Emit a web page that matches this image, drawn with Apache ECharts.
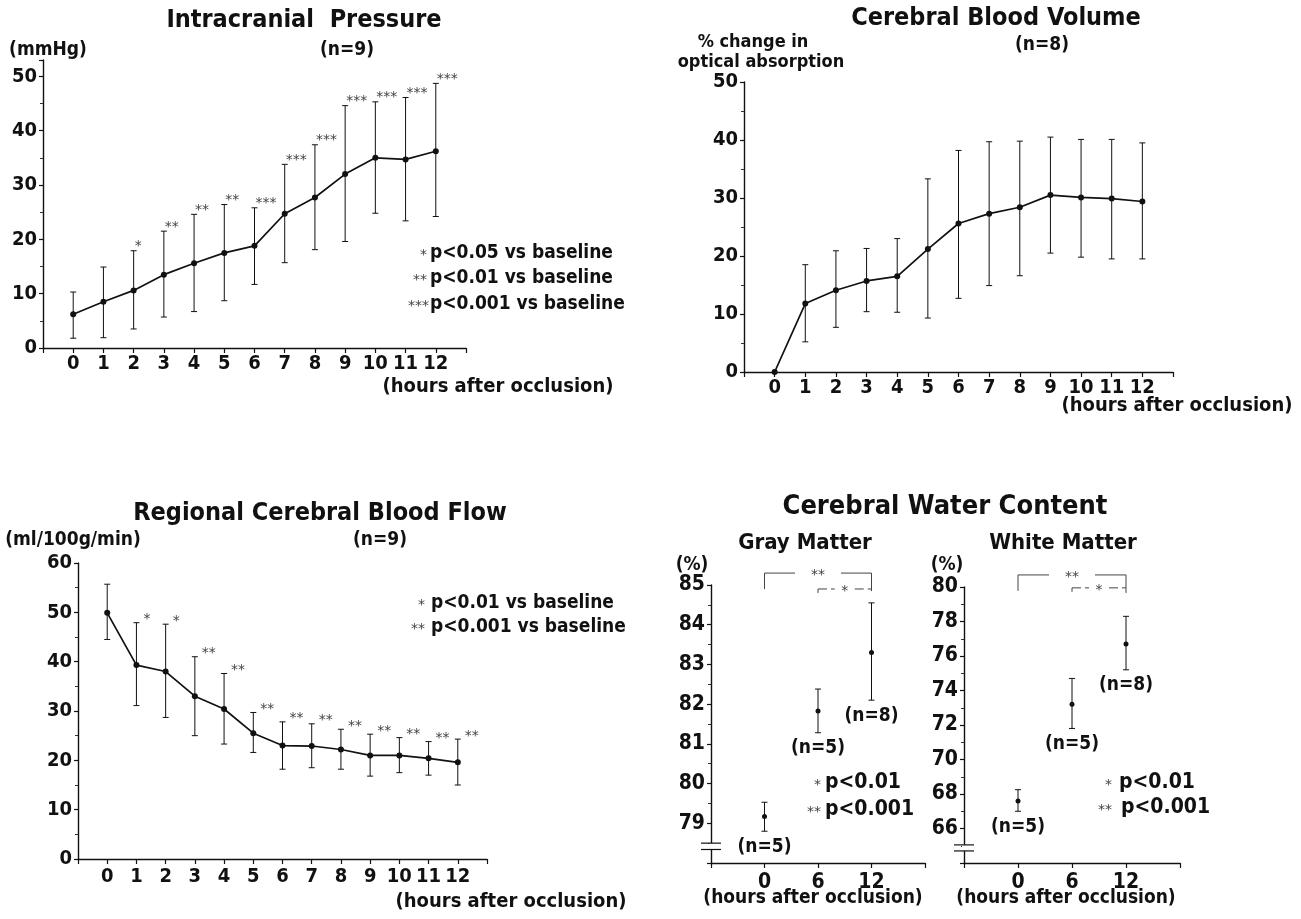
<!DOCTYPE html>
<html>
<head>
<meta charset="utf-8">
<title>Intracranial pressure, CBV, rCBF and water content after occlusion</title>
<script src="https://cdn.jsdelivr.net/npm/echarts@6/dist/echarts.min.js"></script>
<style>
html, body { margin: 0; padding: 0; background: #fff; }
#chart { width: 1301px; height: 919px; }
</style>
</head>
<body>
<div id="chart"></div>
<script>
var hours = [0, 1, 2, 3, 4, 5, 6, 7, 8, 9, 10, 11, 12];

// intracranial pressure (mmHg), n=9
var icpMean  = [6.2, 8.5, 10.6, 13.5, 15.6, 17.5, 18.8, 24.7, 27.7, 32.0, 35.0, 34.7, 36.2];
var icpUpper = [10.3, 14.9, 17.9, 21.5, 24.6, 26.4, 25.8, 33.8, 37.4, 44.6, 45.3, 46.1, 48.7];
var icpLower = [1.8, 1.9, 3.5, 5.7, 6.7, 8.7, 11.7, 15.7, 18.1, 19.6, 24.8, 23.4, 24.2];
var icpStars = ['', '', '*', '**', '**', '**', '***', '***', '***', '***', '***', '***', '***'];

// cerebral blood volume (% change in optical absorption), n=8
var cbvMean  = [0, 11.8, 14.1, 15.7, 16.5, 21.2, 25.6, 27.3, 28.4, 30.5, 30.1, 29.9, 29.4];
var cbvUpper = [0, 18.5, 20.9, 21.3, 23.0, 33.3, 38.2, 39.7, 39.8, 40.5, 40.1, 40.1, 39.5];
var cbvLower = [0, 5.2, 7.7, 10.4, 10.3, 9.3, 12.7, 14.9, 16.6, 20.5, 19.8, 19.5, 19.5];

// regional cerebral blood flow (ml/100g/min), n=9
var cbfMean  = [49.9, 39.3, 38.0, 33.0, 30.4, 25.5, 23.0, 22.9, 22.2, 21.0, 21.0, 20.4, 19.6];
var cbfUpper = [55.7, 47.9, 47.6, 41.0, 37.6, 29.7, 27.8, 27.4, 26.3, 25.3, 24.6, 23.8, 24.3];
var cbfLower = [44.5, 31.1, 28.7, 25.0, 23.3, 21.6, 18.2, 18.5, 18.2, 16.8, 17.5, 17.0, 15.0];
var cbfStars = ['', '*', '*', '**', '**', '**', '**', '**', '**', '**', '**', '**', '**'];

// cerebral water content (%)
var wcHours    = [0, 6, 12];
var grayMean   = [79.17, 81.83, 83.3];
var grayUpper  = [79.53, 82.38, 84.55];
var grayLower  = [78.8, 81.28, 82.1];
var whiteMean  = [67.6, 73.2, 76.7];
var whiteUpper = [68.25, 74.7, 78.3];
var whiteLower = [67.0, 71.8, 75.2];
var groupN     = ['(n=5)', '(n=5)', '(n=8)'];

// significance brackets: [from hour, to hour, level, label]
var grayBrackets  = [[0, 12, 85.3, '**'], [6, 12, 84.9, '*']];
var whiteBrackets = [[0, 12, 80.7, '**'], [6, 12, 79.95, '*']];
// broken y axis (value range of the gap)
var grayBreak  = [78.34, 78.5];
var whiteBreak = [64.7, 65.05];

var FONT = '"DejaVu Sans Condensed", "DejaVu Sans", sans-serif';
var INK = '#111';

var chart = echarts.init(document.getElementById('chart'));

function errorBars(params, api) {
  var x = api.value(0), lo = api.value(1), hi = api.value(2);
  if (lo === hi) return null;
  var a = api.coord([x, lo]), b = api.coord([x, hi]);
  var w = 3;
  var st = { stroke: INK, lineWidth: 1 };
  return {
    type: 'group',
    children: [
      { type: 'line', shape: { x1: a[0], y1: a[1], x2: b[0], y2: b[1] }, style: st },
      { type: 'line', shape: { x1: a[0] - w, y1: a[1], x2: a[0] + w, y2: a[1] }, style: st },
      { type: 'line', shape: { x1: b[0] - w, y1: b[1], x2: b[0] + w, y2: b[1] }, style: st }
    ]
  };
}

function bracketRender(list) {
  return function (params, api) {
    var br = list[params.dataIndex];
    var p1 = api.coord([br[0], br[2]]), p2 = api.coord([br[1], br[2]]);
    var outer = br[3].length > 1;
    var mid = (p1[0] + p2[0]) / 2;
    var gap = outer ? 23 : 10;
    var legL = outer ? 16 : 4, legR = outer ? 18 : 0;
    var st = { stroke: '#444', lineWidth: 1, lineDash: outer ? null : [9, 4] };
    var y = p1[1];
    return {
      type: 'group',
      children: [
        { type: 'line', shape: { x1: p1[0], y1: y + legL, x2: p1[0], y2: y }, style: { stroke: '#444', lineWidth: 1 } },
        { type: 'line', shape: { x1: p1[0], y1: y, x2: mid - gap, y2: y }, style: st },
        { type: 'line', shape: { x1: mid + gap, y1: y, x2: p2[0], y2: y }, style: st },
        { type: 'line', shape: { x1: p2[0], y1: y, x2: p2[0], y2: y + legR }, style: { stroke: '#444', lineWidth: 1 } },
        { type: 'text', style: { text: br[3], x: mid, y: y + 2, align: 'center', verticalAlign: 'middle',
          font: '14px "DejaVu Sans", sans-serif', fill: '#444' } }
      ]
    };
  };
}

function breakRender(params, api) {
  var x = api.value(0);
  var a = api.coord([x, api.value(1)]), b = api.coord([x, api.value(2)]);
  return {
    type: 'group',
    children: [
      { type: 'rect', shape: { x: a[0] - 2, y: b[1], width: 4, height: a[1] - b[1] }, style: { fill: '#fff' } },
      { type: 'line', shape: { x1: a[0] - 10, y1: a[1], x2: a[0] + 10, y2: a[1] }, style: { stroke: INK, lineWidth: 1.2 } },
      { type: 'line', shape: { x1: b[0] - 10, y1: b[1], x2: b[0] + 10, y2: b[1] }, style: { stroke: INK, lineWidth: 1.2 } }
    ]
  };
}

function xAxis(gi, min, max, interval, lo, hi, size, margin) {
  return {
    type: 'value', gridIndex: gi, min: min, max: max, interval: interval,
    axisLine: { onZero: false, lineStyle: { color: INK, width: 1.4 } },
    axisTick: { length: 5, lineStyle: { color: INK, width: 1.2 } },
    splitLine: { show: false },
    axisLabel: {
      margin: margin, color: INK, fontFamily: FONT, fontWeight: 'bold', fontSize: size,
      formatter: function (v) { return (v >= lo && v <= hi) ? String(v) : ''; }
    }
  };
}

function yAxis(gi, min, max, interval, lo, hi, size) {
  return {
    type: 'value', gridIndex: gi, min: min, max: max, interval: interval,
    axisLine: { show: true, onZero: false, lineStyle: { color: INK, width: 1.4 } },
    axisTick: { show: true, length: 4, lineStyle: { color: INK, width: 1.2 } },
    minorTick: { show: true, splitNumber: 2, length: 3, lineStyle: { color: '#333' } },
    splitLine: { show: false },
    axisLabel: {
      margin: 6, color: INK, fontFamily: FONT, fontWeight: 'bold', fontSize: size,
      formatter: function (v) { return (v >= lo && v <= hi && (v - lo) % interval === 0) ? String(v) : ''; }
    }
  };
}

function meanLine(gi, mean) {
  return {
    type: 'line', xAxisIndex: gi, yAxisIndex: gi, z: 3,
    data: hours.map(function (h, i) { return [h, mean[i]]; }),
    symbol: 'circle', symbolSize: 6, showSymbol: true,
    lineStyle: { color: INK, width: 1.7 }, itemStyle: { color: INK }
  };
}

function errSeries(gi, xs, lower, upper) {
  return {
    type: 'custom', xAxisIndex: gi, yAxisIndex: gi, z: 2,
    renderItem: errorBars,
    data: xs.map(function (h, i) { return [h, lower[i], upper[i]]; })
  };
}

function starSeries(gi, upper, stars, off) {
  var d = [];
  hours.forEach(function (h, i) { if (stars[i]) d.push({ value: [h, upper[i]], name: stars[i] }); });
  return {
    type: 'scatter', xAxisIndex: gi, yAxisIndex: gi, symbolSize: 0, silent: true,
    itemStyle: { opacity: 1 },
    data: d,
    label: {
      show: true, position: 'right', distance: 0, offset: off,
      formatter: function (p) { return p.name; },
      fontFamily: 'DejaVu Sans', fontSize: 14, color: '#444'
    }
  };
}

function nSeries(gi, lower) {
  return {
    type: 'scatter', xAxisIndex: gi, yAxisIndex: gi, symbolSize: 0, silent: true,
    itemStyle: { opacity: 1 },
    data: wcHours.map(function (h, i) { return { value: [h, lower[i]], name: groupN[i] }; }),
    label: {
      show: true, position: 'bottom', distance: 6,
      formatter: function (p) { return p.name; },
      fontFamily: FONT, fontWeight: 'bold', fontSize: 19, color: INK
    }
  };
}

function dotSeries(gi, mean) {
  return {
    type: 'scatter', xAxisIndex: gi, yAxisIndex: gi, z: 3, symbol: 'circle', symbolSize: 5,
    itemStyle: { color: INK, opacity: 1 },
    data: wcHours.map(function (h, i) { return [h, mean[i]]; })
  };
}

function txt(x, y, s, size, align) {
  return {
    type: 'text', x: x, y: y, silent: true,
    style: { text: s, align: align || 'center', verticalAlign: 'middle',
      font: 'bold ' + size + 'px ' + FONT, fill: INK }
  };
}
function starTxt(x, y, s) {
  return {
    type: 'text', x: x, y: y, silent: true,
    style: { text: s, align: 'right', verticalAlign: 'middle', font: '14px "DejaVu Sans", sans-serif', fill: '#444' }
  };
}

var option = {
  animation: false,
  backgroundColor: '#fff',
  grid: [
    { left: 43, top: 60, width: 423, height: 288 },   // ICP
    { left: 744, top: 82, width: 429, height: 290 },  // CBV
    { left: 78, top: 563, width: 409, height: 296 },  // rCBF
    { left: 711, top: 585, width: 214, height: 278 }, // gray matter
    { left: 964, top: 587, width: 216, height: 276 }  // white matter
  ],
  xAxis: [
    xAxis(0, -1, 13, 1, 0, 12, 20, 6),
    xAxis(1, -1, 13, 1, 0, 12, 20, 6),
    xAxis(2, -1, 13, 1, 0, 12, 20, 8),
    xAxis(3, -6, 18, 6, 0, 12, 21, 9),
    xAxis(4, -6, 18, 6, 0, 12, 21, 9)
  ],
  yAxis: [
    yAxis(0, 0, 53, 10, 0, 50, 20),
    yAxis(1, 0, 50, 10, 0, 50, 20),
    yAxis(2, 0, 60, 10, 0, 60, 20),
    yAxis(3, 78, 85, 1, 79, 85, 21),
    yAxis(4, 64, 80, 2, 66, 80, 21)
  ],
  series: [
    errSeries(0, hours, icpLower, icpUpper),
    meanLine(0, icpMean),
    starSeries(0, icpUpper, icpStars, [1, -4]),

    errSeries(1, hours, cbvLower, cbvUpper),
    meanLine(1, cbvMean),

    errSeries(2, hours, cbfLower, cbfUpper),
    meanLine(2, cbfMean),
    starSeries(2, cbfUpper, cbfStars, [7, -3]),

    errSeries(3, wcHours, grayLower, grayUpper),
    dotSeries(3, grayMean),
    nSeries(3, grayLower),
    { type: 'custom', xAxisIndex: 3, yAxisIndex: 3, clip: false, renderItem: bracketRender(grayBrackets),
      data: grayBrackets.map(function (b) { return [b[0], b[2], b[1]]; }) },
    { type: 'custom', xAxisIndex: 3, yAxisIndex: 3, clip: false, z: 5, renderItem: breakRender,
      data: [[-6, grayBreak[0], grayBreak[1]]] },

    errSeries(4, wcHours, whiteLower, whiteUpper),
    dotSeries(4, whiteMean),
    nSeries(4, whiteLower),
    { type: 'custom', xAxisIndex: 4, yAxisIndex: 4, clip: false, renderItem: bracketRender(whiteBrackets),
      data: whiteBrackets.map(function (b) { return [b[0], b[2], b[1]]; }) },
    { type: 'custom', xAxisIndex: 4, yAxisIndex: 4, clip: false, z: 5, renderItem: breakRender,
      data: [[-6, whiteBreak[0], whiteBreak[1]]] }
  ],
  graphic: [
    // intracranial pressure
    txt(304, 20, 'Intracranial  Pressure', 25),
    txt(347, 50, '(n=9)', 19),
    txt(48, 50, '(mmHg)', 19),
    txt(498, 387, '(hours after occlusion)', 20),
    starTxt(427, 255, '*'), txt(430, 253, 'p<0.05 vs baseline', 19, 'left'),
    starTxt(427, 280, '**'), txt(430, 278, 'p<0.01 vs baseline', 19, 'left'),
    starTxt(429, 306, '***'), txt(430, 304, 'p<0.001 vs baseline', 19, 'left'),

    // cerebral blood volume
    txt(996, 18, 'Cerebral Blood Volume', 25),
    txt(1042, 45, '(n=8)', 19),
    txt(753, 42, '% change in', 18),
    txt(761, 62, 'optical absorption', 18),
    txt(1177, 406, '(hours after occlusion)', 20),

    // regional cerebral blood flow
    txt(320, 513, 'Regional Cerebral Blood Flow', 25),
    txt(380, 540, '(n=9)', 19),
    txt(73, 540, '(ml/100g/min)', 19),
    txt(511, 902, '(hours after occlusion)', 20),
    starTxt(425, 605, '*'), txt(431, 603, 'p<0.01 vs baseline', 19, 'left'),
    starTxt(425, 629, '**'), txt(431, 627, 'p<0.001 vs baseline', 19, 'left'),

    // cerebral water content
    txt(945, 507, 'Cerebral Water Content', 27),
    txt(805, 543, 'Gray Matter', 22),
    txt(1063, 543, 'White Matter', 22),
    txt(692, 565, '(%)', 19),
    txt(947, 565, '(%)', 19),
    txt(813, 898, '(hours after occlusion)', 19),
    txt(1066, 898, '(hours after occlusion)', 19),
    starTxt(821, 785, '*'), txt(825, 783, 'p<0.01', 21, 'left'),
    starTxt(821, 812, '**'), txt(825, 810, 'p<0.001', 21, 'left'),
    starTxt(1112, 785, '*'), txt(1119, 783, 'p<0.01', 21, 'left'),
    starTxt(1112, 810, '**'), txt(1121, 808, 'p<0.001', 21, 'left')
  ]
};

chart.setOption(option);
</script>
</body>
</html>
